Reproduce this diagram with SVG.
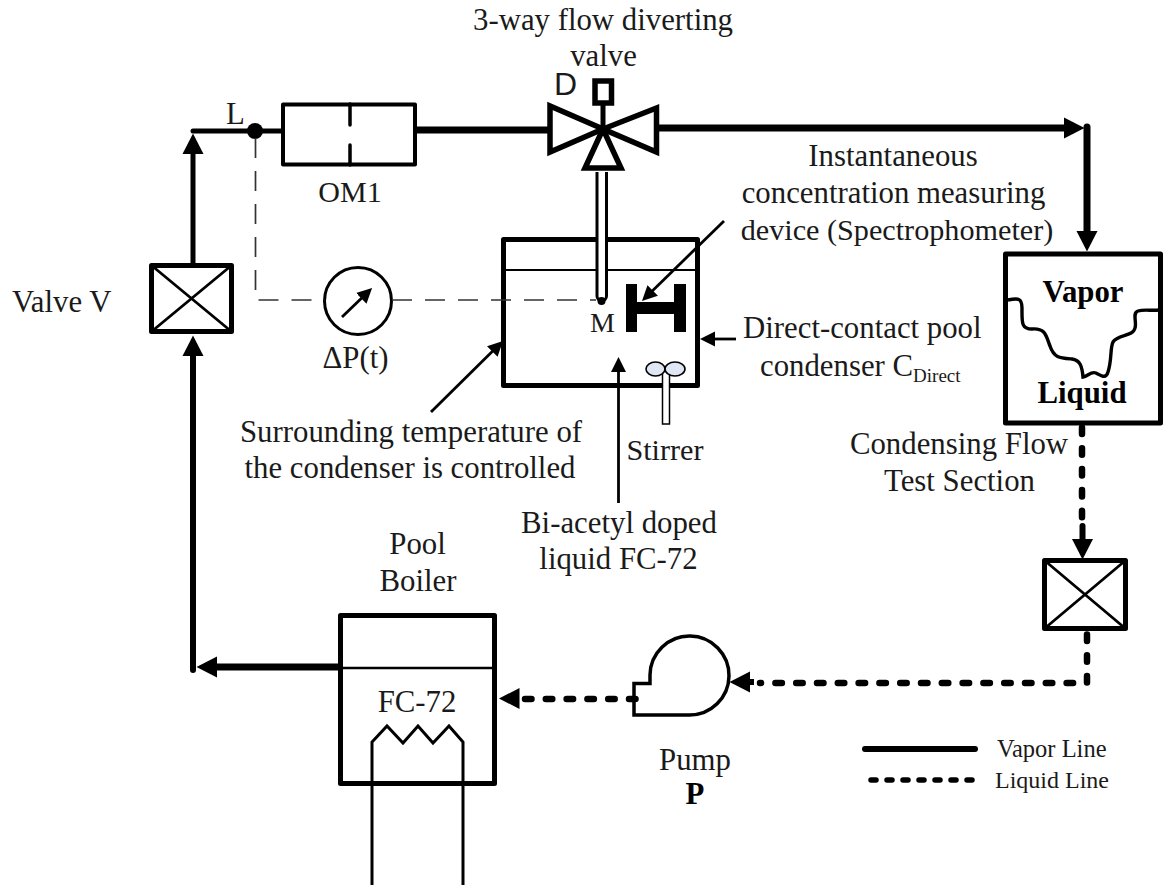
<svg xmlns="http://www.w3.org/2000/svg" width="1163" height="888" viewBox="0 0 1163 888">
<defs>
<marker id="ah" markerUnits="userSpaceOnUse" markerWidth="22" markerHeight="22" refX="1" refY="11" orient="auto"><path d="M0 0.500L20.500 11L0 21.500Z" fill="#000"/></marker>
<marker id="as" markerUnits="userSpaceOnUse" markerWidth="16" markerHeight="16" refX="1" refY="8" orient="auto"><path d="M0 0.500L15 8L0 15.500Z" fill="#000"/></marker>
</defs>
<style>
text{font-family:"Liberation Serif","Times New Roman",serif;font-size:30.8px;fill:#1a1a1a}
.m{text-anchor:middle}
.b{font-weight:bold;fill:#000}
.tri{fill:#fff;stroke:#000;stroke-width:5.5;stroke-linejoin:miter}
.pipe{fill:none;stroke:#000;stroke-width:6;stroke-linejoin:round}
.liq{fill:none;stroke:#000;stroke-width:6.5;stroke-dasharray:6.5 14.3;stroke-linecap:round;stroke-linejoin:round}
.thin{fill:none;stroke:#000;stroke-width:2.8}
.dash{fill:none;stroke:#333;stroke-width:1.7;stroke-dasharray:20 13}
</style>
<rect width="1163" height="888" fill="#fff"/>
<g id="node-om1">
<rect x="283" y="104.500" width="132" height="60" fill="#fff" stroke="#000" stroke-width="4" stroke-linejoin="round"/>
<path d="M350 104V125M350 145V165" stroke="#000" stroke-width="3.500" fill="none" stroke-linecap="round"/>
</g>
<g id="node-l"><circle cx="255" cy="131" r="8" fill="#000"/></g>
<g id="node-condenser">
<rect x="503.500" y="239.500" width="194" height="146" fill="#fff" stroke="#000" stroke-width="5" stroke-linejoin="round"/>
<path d="M505 270H696" stroke="#000" stroke-width="2"/>
<path d="M626 284h11v18h37v-18h12v48h-12v-18h-37v18h-11Z" fill="#000"/>
<rect x="662.500" y="370" width="7" height="54" fill="#fff" stroke="#000" stroke-width="1.500"/>
<ellipse cx="655.500" cy="369" rx="9.500" ry="7" fill="#dfe6f4" stroke="#000" stroke-width="1.600"/>
<ellipse cx="675" cy="369" rx="10" ry="7" fill="#dfe6f4" stroke="#000" stroke-width="1.600"/>
<path d="M597 172V296A4.500 4.500 0 0 0 606.500 296V172" fill="#fff" stroke="#000" stroke-width="3"/>
<circle cx="601.500" cy="301" r="4" fill="#000"/>
</g>
<g id="node-valve-d">
<path d="M550 106V152L603 129Z" class="tri"/>
<path d="M656.500 108V152L603 129Z" class="tri"/>
<path d="M603 129L585 168H621Z" class="tri"/>
<path d="M603 105V129" stroke="#000" stroke-width="5"/>
<rect x="595" y="81" width="16.500" height="22" fill="#fff" stroke="#000" stroke-width="5.500"/>
</g>
<g id="node-gauge">
<circle cx="358" cy="301" r="33.500" fill="#fff" stroke="#000" stroke-width="3"/>
<path class="thin" d="M342 317L362 297.700" marker-end="url(#as)"/>
</g>
<g id="node-valve-v">
<rect x="151.500" y="265.500" width="80" height="66" fill="#fff" stroke="#000" stroke-width="5" stroke-linejoin="round"/>
<path d="M151 265L232 332M232 265L151 332" stroke="#000" stroke-width="2.800"/>
</g>
<g id="node-test-section">
<rect x="1005.500" y="254" width="155" height="169" fill="#fff" stroke="#000" stroke-width="5" stroke-linejoin="round"/>
<path d="M1008 300C1018 298 1022 298 1022 308C1022 322 1021 329 1032 329C1046 328 1046 336 1050 346C1054 358 1060 358 1072 359C1080 360 1082 366 1083 377C1088 376 1091 371 1096 373C1102 376 1106 379 1108 372C1112 360 1110 348 1113 342C1118 334 1133 337 1135 328C1137 322 1132 313 1138 311C1144 309 1152 311 1159 310" fill="none" stroke="#000" stroke-width="3.400"/>
<text x="1083" y="302" class="m b">Vapor</text>
<text x="1082" y="403" class="m b">Liquid</text>
</g>
<g id="node-valve-2">
<rect x="1044.500" y="560.500" width="81" height="68" fill="#fff" stroke="#000" stroke-width="5" stroke-linejoin="round"/>
<path d="M1044 560L1126 629M1126 560L1044 629" stroke="#000" stroke-width="2.800"/>
</g>
<g id="node-pump">
<path d="M634 715H689A39.500 39.500 0 1 0 650 675V683.500H634Z" fill="#fff" stroke="#000" stroke-width="3.500"/>
</g>
<g id="node-boiler">
<rect x="340.500" y="615.500" width="154" height="168" fill="#fff" stroke="#000" stroke-width="5" stroke-linejoin="round"/>
<path d="M341 668H495" stroke="#000" stroke-width="2.500"/>
<path d="M372 885V742L387 726L403 743L418 726L433 743L449 726L463 742V885" fill="none" stroke="#000" stroke-width="3"/>
<text x="417" y="712" class="m">FC-72</text>
</g>
<g id="connectors">
<path class="pipe" d="M339 667H216" style="stroke-width:7" marker-end="url(#ah)"/>
<path class="pipe" d="M193 670V355" marker-end="url(#ah)" stroke-linecap="round"/>
<path class="pipe" style="stroke-width:5" d="M193 263V153" marker-end="url(#ah)"/>
<path d="M193 131H282" fill="none" stroke="#000" stroke-width="5" stroke-linecap="round"/>
<path d="M416 130H548" fill="none" stroke="#000" stroke-width="7"/>
<path class="pipe" style="stroke-width:7" d="M658 128H1065" marker-end="url(#ah)"/>
<path class="pipe" style="stroke-width:7;stroke-linecap:round" d="M1087 127V232" marker-end="url(#ah)"/>
<path class="dash" d="M255.500 138V300H325"/>
<path class="dash" d="M392 300H596"/>
<path class="liq" d="M1082 427.500V525"/>
<path d="M1082.500 526V540" fill="none" stroke="#000" stroke-width="6" stroke-linecap="round" marker-end="url(#ah)"/>
<path class="liq" d="M1087 634.500V683H760"/>
<path d="M754 682H749" fill="none" stroke="#000" stroke-width="6" marker-end="url(#ah)"/>
<path class="liq" d="M525 699H636"/>
<path d="M522 698.500H518.500" fill="none" marker-end="url(#ah)"/>
<path class="thin" d="M724 221L652 291.200" marker-end="url(#as)"/>
<path class="thin" d="M431 412L493 350.800" marker-end="url(#as)"/>
<path class="thin" d="M736 339H714" marker-end="url(#as)"/>
<path class="thin" d="M618.500 503V371" marker-end="url(#as)"/>
</g>
<g id="legend">
<path d="M865 749H975" stroke="#000" stroke-width="6" stroke-linecap="round"/>
<path d="M871 780H973" stroke="#000" stroke-width="5.500" stroke-dasharray="5 11" stroke-linecap="round"/>
<text x="997" y="757" style="font-size:24.500px">Vapor Line</text>
<text x="995" y="788" style="font-size:24px">Liquid Line</text>
</g>
<g id="labels">
<text x="603" y="30" class="m">3-way flow diverting</text>
<text x="603.500" y="66" class="m">valve</text>
<text x="554" y="95" style="font-family:'Liberation Sans',sans-serif;font-size:32px">D</text>
<text x="226" y="124">L</text>
<text x="350" y="202" class="m" style="font-size:30px">OM1</text>
<text x="12" y="312">Valve V</text>
<text x="355.500" y="368" class="m">ΔP(t)</text>
<text x="590" y="332" style="font-size:28px">M</text>
<text x="893" y="166" class="m">Instantaneous</text>
<text x="893.500" y="203" class="m">concentration measuring</text>
<text x="897" y="240" class="m" style="font-size:30.200px">device (Spectrophometer)</text>
<text x="743" y="338">Direct-contact pool</text>
<text x="760" y="376">condenser C<tspan style="font-size:19px" dy="6">Direct</tspan></text>
<text x="411" y="442" class="m">Surrounding temperature of</text>
<text x="410" y="478" class="m">the condenser is controlled</text>
<text x="665" y="460" class="m" style="font-size:30.200px">Stirrer</text>
<text x="619" y="533" class="m">Bi-acetyl doped</text>
<text x="618.500" y="569" class="m">liquid FC-72</text>
<text x="959" y="454" class="m">Condensing Flow</text>
<text x="959.500" y="491" class="m">Test Section</text>
<text x="417.500" y="554" class="m">Pool</text>
<text x="418" y="591" class="m">Boiler</text>
<text x="695" y="770" class="m">Pump</text>
<text x="695" y="804" class="m b">P</text>
</g>
</svg>
